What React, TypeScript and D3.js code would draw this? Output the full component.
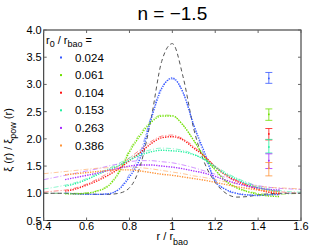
import React from "react";
import * as d3 from "d3";

// r / r_bao sampling for measured points and for model curves
const rData = [0.5, 0.55, 0.6, 0.65, 0.7, 0.75, 0.8, 0.85, 0.9, 0.95, 1.0, 1.05, 1.1, 1.15, 1.2, 1.25, 1.3, 1.35, 1.4, 1.45, 1.5];
const rModel = [0.4, 0.45, 0.5, 0.55, 0.6, 0.65, 0.7, 0.75, 0.8, 0.85, 0.9, 0.95, 1.0, 1.05, 1.1, 1.15, 1.2, 1.25, 1.3, 1.35, 1.4, 1.45, 1.5, 1.55, 1.6];

const labels = ["0.024", "0.061", "0.104", "0.153", "0.263", "0.386"];
const colors = ["#3658ff", "#6fe000", "#ff1414", "#22f0a0", "#a82cff", "#ff9438"];

const measured = [
  [1.0, 0.99, 0.98, 0.98, 0.99, 1.07, 1.3, 1.65, 2.35, 2.92, 3.12, 2.85, 2.25, 1.75, 1.22, 1.07, 1.0, 0.97, 0.96, 0.97, 0.98],
  [0.99, 0.99, 1.0, 1.04, 1.13, 1.37, 1.76, 2.06, 2.3, 2.42, 2.42, 2.25, 1.97, 1.66, 1.43, 1.22, 1.1, 1.03, 0.98, 0.95, 0.94],
  [1.04, 1.08, 1.15, 1.23, 1.33, 1.45, 1.6, 1.75, 1.91, 2.02, 2.04, 1.98, 1.83, 1.68, 1.48, 1.33, 1.22, 1.14, 1.07, 1.02, 0.99],
  [1.13, 1.18, 1.25, 1.34, 1.43, 1.51, 1.61, 1.7, 1.76, 1.79, 1.78, 1.76, 1.71, 1.62, 1.48, 1.35, 1.26, 1.17, 1.1, 1.06, 1.03],
  [1.25, 1.29, 1.33, 1.37, 1.42, 1.46, 1.5, 1.52, 1.52, 1.5, 1.48, 1.45, 1.41, 1.37, 1.31, 1.24, 1.18, 1.13, 1.1, 1.07, 1.06],
  [1.34, 1.36, 1.38, 1.4, 1.42, 1.43, 1.43, 1.41, 1.38, 1.35, 1.33, 1.3, 1.27, 1.24, 1.2, 1.16, 1.12, 1.09, 1.06, 1.04, 1.02],
];

const model = [
  [1.0, 1.0, 1.0, 0.99, 0.99, 0.98, 0.99, 1.08, 1.35, 1.75, 2.4, 2.95, 3.1, 2.85, 2.25, 1.68, 1.25, 1.06, 0.99, 0.97, 0.97, 0.98, 0.99, 1.0, 1.0],
  [1.0, 1.0, 1.0, 1.0, 1.01, 1.05, 1.15, 1.4, 1.8, 2.1, 2.33, 2.44, 2.43, 2.26, 1.97, 1.66, 1.42, 1.23, 1.11, 1.04, 1.0, 0.98, 0.98, 0.99, 1.0],
  [1.02, 1.04, 1.06, 1.1, 1.17, 1.26, 1.37, 1.5, 1.65, 1.8, 1.95, 2.05, 2.07, 2.0, 1.86, 1.68, 1.5, 1.35, 1.24, 1.16, 1.1, 1.06, 1.03, 1.01, 1.0],
  [1.08, 1.11, 1.15, 1.2, 1.27, 1.36, 1.45, 1.55, 1.65, 1.74, 1.8, 1.83, 1.82, 1.79, 1.72, 1.62, 1.5, 1.38, 1.28, 1.2, 1.13, 1.08, 1.05, 1.03, 1.02],
  [1.25, 1.29, 1.33, 1.37, 1.41, 1.45, 1.5, 1.54, 1.58, 1.6, 1.6, 1.58, 1.56, 1.52, 1.47, 1.41, 1.35, 1.29, 1.23, 1.18, 1.14, 1.11, 1.09, 1.08, 1.07],
  [1.36, 1.38, 1.4, 1.42, 1.44, 1.46, 1.47, 1.48, 1.48, 1.47, 1.45, 1.42, 1.39, 1.36, 1.32, 1.29, 1.25, 1.21, 1.18, 1.15, 1.13, 1.11, 1.1, 1.09, 1.08],
];

// linear theory (black dashed)
const linear = [1.0, 1.0, 1.0, 0.99, 0.99, 0.98, 0.98, 1.0, 1.1, 1.5, 2.35, 3.42, 3.75, 3.14, 2.18, 1.56, 1.2, 1.0, 0.93, 0.94, 0.97, 0.99, 1.0, 1.0, 1.0];

// error bars at r = 1.45
const errR = 1.45;
const errMid = [3.11, 2.45, 2.09, 1.85, 1.6, 1.46];
const errLo = [3.02, 2.34, 1.98, 1.74, 1.455, 1.32];
const errHi = [3.22, 2.55, 2.19, 1.99, 1.725, 1.565];

const xTicks = [0.4, 0.6, 0.8, 1.0, 1.2, 1.4, 1.6];
const yTicks = [0.5, 1.0, 1.5, 2.0, 2.5, 3.0, 3.5, 4.0];

const W = 332;
const H = 250;
const margin = { top: 30, right: 31, bottom: 29.5, left: 43.7 };
const font = "Liberation Sans, Arial, sans-serif";

export default function App() {
  const x = d3.scaleLinear().domain([0.4, 1.6]).range([margin.left, W - margin.right]);
  const y = d3.scaleLinear().domain([0.5, 4.0]).range([H - margin.bottom, margin.top]);

  const line = (xs: number[], ys: number[]) =>
    d3
      .line<number>()
      .x((_, i) => x(xs[i]))
      .y((d) => y(d))
      .curve(d3.curveMonotoneX)(ys) || "";

  const x0 = x.range()[0];
  const x1 = x.range()[1];
  const y0 = y.range()[0];
  const y1 = y.range()[1];

  return (
    <svg width={W} height={H} style={{ position: "absolute", left: 0, top: 0, background: "#fff" }} fontFamily={font}>
      <defs>
        <clipPath id="plot">
          <rect x={x0} y={y1} width={x1 - x0} height={y0 - y1} />
        </clipPath>
      </defs>

      <text x={(x0 + x1) / 2} y={20} textAnchor="middle" fontSize={19}>
        n = −1.5
      </text>

      <g clipPath="url(#plot)">
        {/* model curves, dash-dot */}
        {model.map((m, i) => (
          <path key={"m" + i} d={line(rModel, m)} fill="none" stroke={colors[i]} strokeOpacity={0.5} strokeWidth={1} strokeDasharray="5 2 1 2" />
        ))}
        <path d={line(rModel, linear)} fill="none" stroke="#555" strokeWidth={1} strokeDasharray="4 3" />
        {/* measured, dotted */}
        {measured.map((m, i) => (
          <path key={"d" + i} d={line(rData, m)} fill="none" stroke={colors[i]} strokeWidth={1.4} strokeDasharray="1.3 1.2" />
        ))}
      </g>

      {/* error bars */}
      {errMid.map((v, i) => (
        <g key={"e" + i} stroke={colors[i]} strokeWidth={1} strokeOpacity={0.8}>
          <line x1={x(errR)} x2={x(errR)} y1={y(errLo[i])} y2={y(errHi[i])} />
          <line x1={x(errR) - 3.5} x2={x(errR) + 3.5} y1={y(errLo[i])} y2={y(errLo[i])} />
          <line x1={x(errR) - 3.5} x2={x(errR) + 3.5} y1={y(errHi[i])} y2={y(errHi[i])} />
          <rect x={x(errR) - 0.8} y={y(v) - 0.8} width={1.6} height={1.6} fill={colors[i]} stroke="none" />
        </g>
      ))}

      {/* frame and ticks */}
      <rect x={x0} y={y1} width={x1 - x0} height={y0 - y1} fill="none" stroke="#222" strokeWidth={1} />
      {xTicks.map((t) => (
        <g key={"xt" + t}>
          <line x1={x(t)} x2={x(t)} y1={y0} y2={y0 - 3} stroke="#666" />
          <line x1={x(t)} x2={x(t)} y1={y1} y2={y1 + 3} stroke="#666" />
          <text x={x(t)} y={y0 + 9} textAnchor="middle" fontSize={11}>
            {d3.format("~g")(t)}
          </text>
        </g>
      ))}
      {yTicks.map((t) => (
        <g key={"yt" + t}>
          <line x1={x0} x2={x0 + 3} y1={y(t)} y2={y(t)} stroke="#666" />
          <line x1={x1} x2={x1 - 3} y1={y(t)} y2={y(t)} stroke="#666" />
          <text x={x0 - 2} y={y(t) + 4} textAnchor="end" fontSize={11}>
            {d3.format(".1f")(t)}
          </text>
        </g>
      ))}

      {/* axis labels */}
      <text x={(x0 + x1) / 2} y={240} textAnchor="middle" fontSize={11}>
        r / r<tspan dy={5} fontSize={9}>bao</tspan>
      </text>
      <text transform={`translate(12,140) rotate(-90)`} textAnchor="middle" fontSize={11}>
        ξ (r) / ξ<tspan dy={4} fontSize={9}>pow</tspan>
        <tspan dy={-4}> (r)</tspan>
      </text>

      {/* legend */}
      <text x={46} y={44} fontSize={11}>
        r<tspan dy={3} fontSize={9}>0</tspan>
        <tspan dy={-3}> / r</tspan>
        <tspan dy={3} fontSize={9}>bao</tspan>
        <tspan dy={-3}> =</tspan>
      </text>
      {labels.map((l, i) => (
        <g key={"l" + i}>
          <rect x={60} y={57.5 + i * 17.6 - 1} width={2} height={2} fill={colors[i]} />
          <text x={75} y={57.5 + i * 17.6 + 4} fontSize={11.5}>
            {l}
          </text>
        </g>
      ))}
    </svg>
  );
}
